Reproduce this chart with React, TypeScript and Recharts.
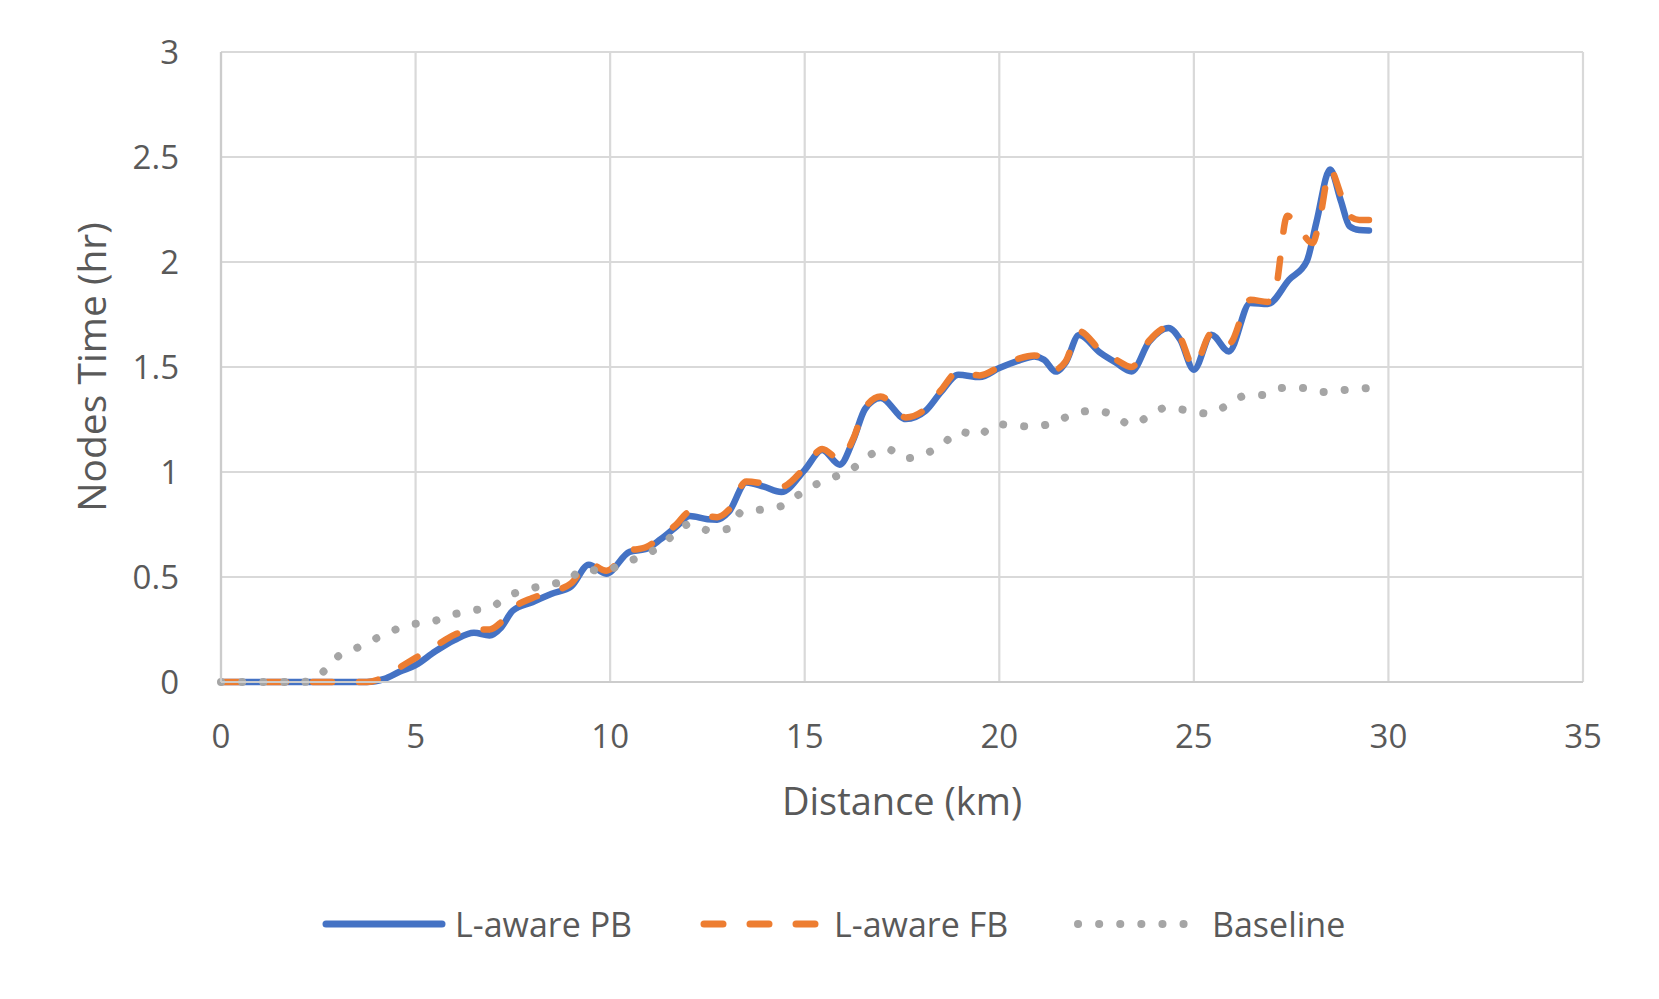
import { LineChart, Line, XAxis, YAxis, CartesianGrid } from "recharts";

// L-aware PB (blue, solid)
const pbDistance = [
  0, 1, 2, 3, 3.75, 4.2, 4.6, 5, 5.5, 6, 6.5, 6.9, 7.2, 7.5, 8, 8.5, 9, 9.45, 9.9, 10.5, 10.9, 11.3,
  11.7, 12.05, 12.5, 12.75, 13.05, 13.5, 13.95, 14.4, 15, 15.45, 15.9, 16.25, 16.55, 16.95, 17.6, 18.1,
  18.5, 18.95, 19.5, 20, 20.5, 20.9, 21.15, 21.45, 21.7, 22.05, 22.6, 23.0, 23.4, 23.85, 24.35, 24.65,
  25.0, 25.45, 25.9, 26.45, 26.9, 27.45, 27.9, 28.15, 28.5, 28.78, 29.0, 29.25, 29.5,
];
const pbTime = [
  0, 0, 0, 0, 0, 0.015, 0.05, 0.08, 0.145, 0.2, 0.235, 0.222, 0.26, 0.34, 0.38, 0.42, 0.455, 0.558,
  0.516, 0.62, 0.632, 0.68, 0.74, 0.79, 0.775, 0.773, 0.81, 0.95, 0.93, 0.905, 1.01, 1.105, 1.035,
  1.154, 1.3, 1.352, 1.252, 1.29, 1.38, 1.463, 1.452, 1.495, 1.53, 1.55, 1.535, 1.478, 1.52, 1.652,
  1.567, 1.52, 1.479, 1.62, 1.686, 1.63, 1.487, 1.654, 1.574, 1.805, 1.8, 1.916, 2.003, 2.19, 2.44,
  2.29, 2.17, 2.152, 2.15,
];

// L-aware FB (orange, dashed)
const fbDistance = [
  0, 1, 2, 3, 3.75, 4.2, 4.6, 5, 5.5, 6, 6.5, 6.9, 7.2, 7.5, 8, 8.5, 9, 9.45, 9.9, 10.5, 10.9, 11.3,
  11.7, 12.05, 12.5, 12.75, 13.05, 13.5, 13.95, 14.4, 15, 15.45, 15.9, 16.25, 16.55, 16.95, 17.6, 18.1,
  18.5, 18.95, 19.5, 20, 20.5, 20.9, 21.15, 21.45, 21.7, 22.05, 22.6, 23.0, 23.4, 23.85, 24.35, 24.65,
  25.0, 25.45, 25.9, 26.45, 26.9, 27.1, 27.4, 27.7, 28.05, 28.25, 28.5, 28.78, 29.0, 29.25, 29.5,
];
const fbTime = [
  0, 0, 0, 0, 0, 0.025, 0.07, 0.115, 0.17, 0.225, 0.25, 0.25, 0.285, 0.35, 0.4, 0.43, 0.47, 0.565,
  0.53, 0.625, 0.64, 0.69, 0.75, 0.81, 0.79, 0.785, 0.82, 0.955, 0.945, 0.93, 1.02, 1.11, 1.06, 1.16,
  1.305, 1.36, 1.26, 1.3, 1.39, 1.478, 1.46, 1.5, 1.54, 1.555, 1.54, 1.49, 1.525, 1.67, 1.58, 1.535,
  1.5, 1.625, 1.69, 1.64, 1.5, 1.66, 1.61, 1.82, 1.81, 1.87, 2.22, 2.16, 2.09, 2.22, 2.44, 2.32, 2.22,
  2.2, 2.2,
];

// Baseline (gray, dotted)
const baseDistance = [
  0, 0.5, 1, 1.5, 2.1, 2.6, 2.94, 3.4, 3.88, 4.37, 4.87, 5.38, 5.89, 6.4, 6.92, 7.36, 7.86, 8.37, 8.89,
  9.33, 9.83, 10.3, 10.79, 11.26, 11.64, 12.07, 12.57, 13.06, 13.38, 13.85, 14.37, 14.82, 15.28, 15.76,
  16.25, 16.66, 17.11, 17.58, 18.09, 18.55, 18.97, 19.46, 19.89, 20.38, 20.89, 21.41, 21.9, 22.4,
  22.93, 23.38, 23.84, 24.32, 24.83, 25.37, 25.84, 26.31, 26.82, 27.29, 27.8, 28.31, 28.83, 29.5,
];
const baseTime = [
  0, 0, 0, 0, 0, 0.044, 0.113, 0.154, 0.198, 0.241, 0.273, 0.285, 0.317, 0.34, 0.354, 0.408, 0.44,
  0.463, 0.482, 0.538, 0.527, 0.562, 0.598, 0.643, 0.703, 0.754, 0.72, 0.731, 0.811, 0.82, 0.836,
  0.889, 0.94, 0.976, 1.019, 1.079, 1.111, 1.065, 1.086, 1.133, 1.193, 1.173, 1.229, 1.22, 1.217,
  1.236, 1.276, 1.292, 1.273, 1.225, 1.265, 1.308, 1.293, 1.278, 1.316, 1.363, 1.368, 1.4, 1.4,
  1.381, 1.39, 1.4,
];

const xTicks = [0, 5, 10, 15, 20, 25, 30, 35];
const yTicks = [0, 0.5, 1, 1.5, 2, 2.5, 3];

const toRows = (xs: number[], ys: number[]) => xs.map((x, i) => ({ x, y: ys[i] }));

const pbData = toRows(pbDistance, pbTime);
const fbData = toRows(fbDistance, fbTime);
const baseData = toRows(baseDistance, baseTime);

const BLUE = "#4472C4";
const ORANGE = "#ED7D31";
const GRAY = "#A5A5A5";
const TEXT = "#595959";
const GRID = "#D9D9D9";

const FONT = "'Open Sans', 'Noto Sans', sans-serif";

function LegendItem({
  left,
  width,
  textLeft,
  color,
  dash,
  strokeWidth,
  label,
}: {
  left: number;
  width: number;
  textLeft: number;
  color: string;
  dash?: string;
  strokeWidth: number;
  label: string;
}) {
  return (
    <>
      <svg
        width={width}
        height={20}
        style={{ position: "absolute", left, top: 914 }}
      >
        <line
          x1={4}
          x2={width - 4}
          y1={10}
          y2={10}
          stroke={color}
          strokeWidth={strokeWidth}
          strokeDasharray={dash}
          strokeLinecap="round"
        />
      </svg>
      <div
        style={{
          position: "absolute",
          left: textLeft,
          top: 900,
          height: 48,
          lineHeight: "48px",
          fontSize: 34,
          color: TEXT,
          whiteSpace: "nowrap",
        }}
      >
        {label}
      </div>
    </>
  );
}

export default function App() {
  return (
    <div
      style={{
        position: "absolute",
        left: 0,
        top: 0,
        width: 1659,
        height: 999,
        background: "#fff",
        fontFamily: FONT,
      }}
    >
      <LineChart
        width={1659}
        height={999}
        margin={{ top: 52, right: 76, bottom: 177, left: 0 }}
      >
        <CartesianGrid stroke={GRID} strokeWidth={2.2} />
        <XAxis
          type="number"
          dataKey="x"
          domain={[0, 35]}
          ticks={xTicks}
          interval={0}
          height={140}
          tickSize={0}
          tickMargin={43}
          axisLine={{ stroke: "#CCCCCC", strokeWidth: 2.2 }}
          tickLine={false}
          tick={{ fill: TEXT, fontSize: 33 }}
          label={{
            value: "Distance (km)",
            position: "insideBottom",
            offset: 7,
            fill: TEXT,
            fontSize: 38,
          }}
        />
        <YAxis
          type="number"
          domain={[0, 3]}
          ticks={yTicks}
          interval={0}
          width={221}
          tickSize={0}
          tickMargin={42}
          axisLine={{ stroke: "#CCCCCC", strokeWidth: 2.2 }}
          tickLine={false}
          tick={{ fill: TEXT, fontSize: 33 }}
          label={{
            value: "Nodes Time (hr)",
            angle: -90,
            position: "insideLeft",
            offset: 92,
            fill: TEXT,
            fontSize: 39,
            style: { textAnchor: "middle" },
          }}
        />
        <Line
          data={pbData}
          dataKey="y"
          type="monotone"
          stroke={BLUE}
          strokeWidth={6.5}
          strokeLinecap="round"
          strokeLinejoin="round"
          dot={false}
          activeDot={false}
          isAnimationActive={false}
        />
        <Line
          data={fbData}
          dataKey="y"
          type="monotone"
          stroke={ORANGE}
          strokeWidth={6.5}
          strokeDasharray="19 27"
          strokeLinecap="round"
          strokeLinejoin="round"
          dot={false}
          activeDot={false}
          isAnimationActive={false}
        />
        <Line
          data={baseData}
          dataKey="y"
          type="monotone"
          stroke={GRAY}
          strokeWidth={8}
          strokeDasharray="0.1 21"
          strokeLinecap="round"
          dot={false}
          activeDot={false}
          isAnimationActive={false}
        />
      </LineChart>

      <LegendItem left={322} width={124} textLeft={455} color={BLUE} strokeWidth={7} label="L-aware PB" />
      <LegendItem left={700} width={128} textLeft={834} color={ORANGE} dash="19 27" strokeWidth={7} label="L-aware FB" />
      <LegendItem left={1074} width={121} textLeft={1212} color={GRAY} dash="0.1 21" strokeWidth={8} label="Baseline" />
    </div>
  );
}
